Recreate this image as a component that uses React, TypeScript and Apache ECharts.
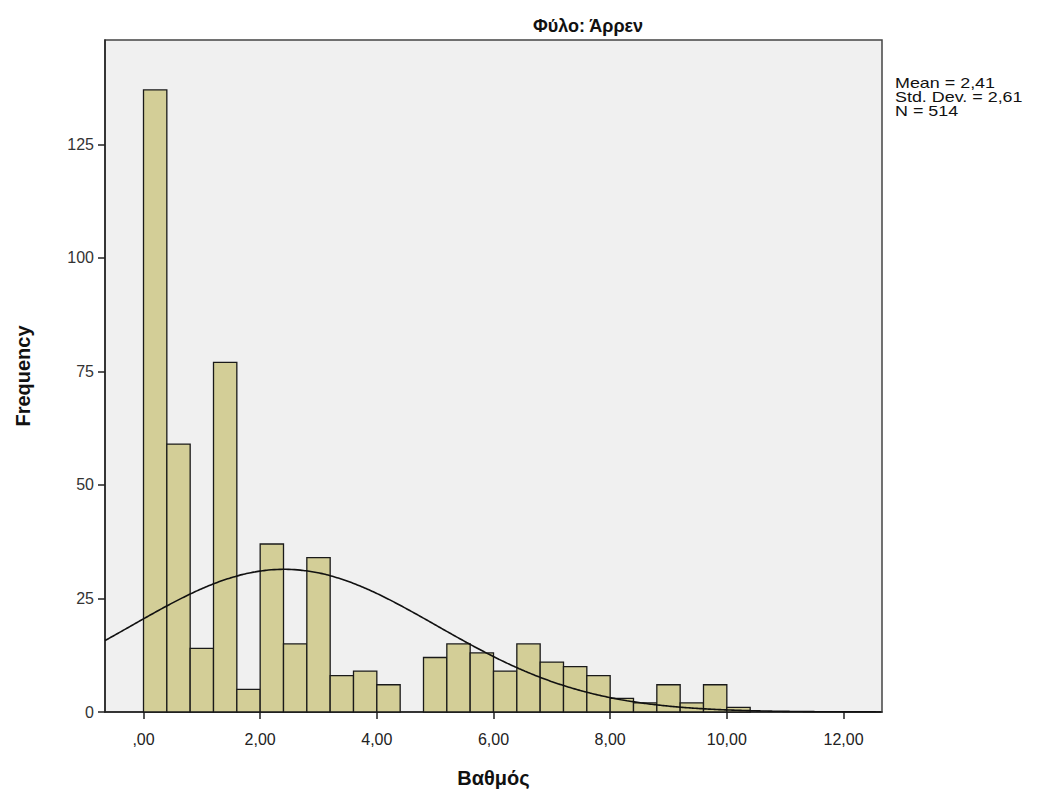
import React, { useEffect, useRef } from "react";
import * as echarts from "echarts";

// Histogram of "Βαθμός" for the group Φύλο: Άρρεν, bin width 0.4
const binStarts = [
  0.0, 0.4, 0.8, 1.2, 1.6, 2.0, 2.4, 2.8, 3.2, 3.6, 4.0, 4.4, 4.8, 5.2, 5.6,
  6.0, 6.4, 6.8, 7.2, 7.6, 8.0, 8.4, 8.8, 9.2, 9.6, 10.0,
];
const binWidth = 0.4;
const counts = [
  137, 59, 14, 77, 5, 37, 15, 34, 8, 9, 6, 0, 12, 15, 13, 9, 15, 11, 10, 8, 3,
  2, 6, 2, 6, 1,
];

// Summary statistics shown beside the plot
const mean = 2.41;
const stdDev = 2.61;
const n = 514;

const xTickValues = [0, 2, 4, 6, 8, 10, 12];
const yTickValues = [0, 25, 50, 75, 100, 125];

const xMin = -0.66;
const xMax = 12.66;
const yMax = 148;

const fmtComma = (v: number) => {
  const s = v.toFixed(2).replace(".", ",");
  return s.startsWith("0,") ? s.slice(1) : s;
};

// Normal density curve scaled to counts (N * bin width)
const normalCurve: number[][] = [];
for (let x = xMin; x <= xMax + 1e-9; x += 0.05) {
  const z = (x - mean) / stdDev;
  const y =
    ((n * binWidth) / (stdDev * Math.sqrt(2 * Math.PI))) * Math.exp(-0.5 * z * z);
  normalCurve.push([x, y]);
}

const narrow = '"Liberation Sans Narrow", "Arial Narrow", "Liberation Sans", Arial, sans-serif';
const sans = '"Liberation Sans", Arial, sans-serif';

export default function App() {
  const ref = useRef<HTMLDivElement>(null);

  useEffect(() => {
    if (!ref.current) return;
    const chart = echarts.init(ref.current, undefined, { renderer: "svg" });

    const barData = binStarts.map((s, i) => [s, s + binWidth, counts[i]]);

    chart.setOption({
      animation: false,
      backgroundColor: "#ffffff",
      title: {
        text: "Φύλο: Άρρεν",
        left: 583,
        top: 12,
        textAlign: "center",
        textStyle: {
          fontFamily: narrow,
          fontWeight: "bold",
          fontSize: 18,
          color: "#111",
        },
      },
      grid: {
        left: 105,
        right: 165,
        top: 40,
        bottom: 80,
        show: true,
        backgroundColor: "#F0F0F0",
        borderColor: "#444",
        borderWidth: 1.5,
      },
      xAxis: {
        type: "value",
        min: xMin,
        max: xMax,
        name: "Βαθμός",
        nameLocation: "middle",
        nameGap: 56,
        nameTextStyle: {
          fontFamily: sans,
          fontWeight: "bold",
          fontSize: 20,
          color: "#111",
        },
        splitLine: { show: false },
        axisLine: { show: true, onZero: false, lineStyle: { color: "#222", width: 1.5 } },
        axisTick: {
          show: true,
          length: 7,
          customValues: xTickValues,
          lineStyle: { color: "#222", width: 1.5 },
        },
        axisLabel: {
          customValues: xTickValues,
          formatter: (v: number) => fmtComma(v),
          fontFamily: narrow,
          fontSize: 16,
          color: "#222",
          margin: 19,
        },
      },
      yAxis: {
        type: "value",
        min: 0,
        max: yMax,
        name: "Frequency",
        nameLocation: "middle",
        nameGap: 72,
        nameTextStyle: {
          fontFamily: sans,
          fontWeight: "bold",
          fontSize: 20,
          color: "#111",
        },
        splitLine: { show: false },
        axisLine: { show: true, onZero: false, lineStyle: { color: "#222", width: 1.5 } },
        axisTick: {
          show: true,
          length: 7,
          customValues: yTickValues,
          lineStyle: { color: "#222", width: 1.5 },
        },
        axisLabel: {
          customValues: yTickValues,
          fontFamily: sans,
          fontSize: 16,
          color: "#333",
          margin: 11,
        },
      },
      graphic: [
        {
          type: "text",
          x: 895,
          y: 76,
          scaleX: 1.28,
          style: {
            text: `Mean = ${mean.toFixed(2).replace(".", ",")}\nStd. Dev. = ${stdDev
              .toFixed(2)
              .replace(".", ",")}\nN = ${n}`,
            font: `14px ${sans}`,
            lineHeight: 14,
            fill: "#111",
          },
        },
      ],
      series: [
        {
          type: "custom",
          data: barData,
          encode: { x: [0, 1], y: 2 },
          renderItem: (_params: any, api: any) => {
            const x0 = api.value(0);
            const x1 = api.value(1);
            const c = api.value(2);
            if (!c) return null;
            const p0 = api.coord([x0, c]);
            const p1 = api.coord([x1, 0]);
            return {
              type: "rect",
              shape: {
                x: p0[0],
                y: p0[1],
                width: p1[0] - p0[0],
                height: p1[1] - p0[1],
              },
              style: { fill: "#D3CE97", stroke: "#1a1a1a", lineWidth: 1.3 },
            };
          },
          z: 2,
        },
        {
          type: "line",
          data: normalCurve,
          showSymbol: false,
          smooth: true,
          lineStyle: { color: "#111", width: 1.6 },
          z: 3,
        },
      ],
    });

    return () => chart.dispose();
  }, []);

  return (
    <div
      ref={ref}
      style={{ position: "fixed", left: 0, top: 0, width: 1047, height: 793, background: "#fff" }}
    />
  );
}
